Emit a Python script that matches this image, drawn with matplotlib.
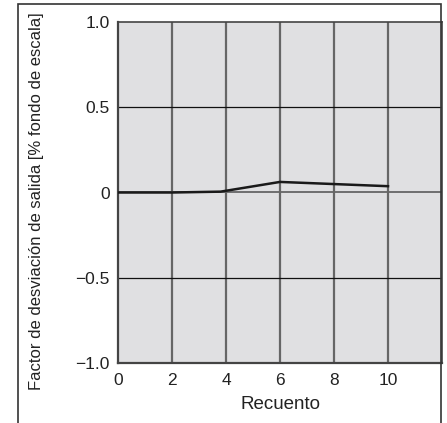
import matplotlib.pyplot as plt
from matplotlib.patches import Rectangle

plt.rcParams['font.family'] = ['Liberation Sans', 'DejaVu Sans']

recuento = [0, 2, 3.8, 6, 10]
desviacion = [0.0, 0.0, 0.005, 0.062, 0.037]
xticks = [0, 2, 4, 6, 8, 10]
yticks = [-1.0, -0.5, 0, 0.5, 1.0]
ylabels = ['\u22121.0', '\u22120.5', '0', '0.5', '1.0']

W, H = 447, 423
fig = plt.figure(figsize=(W / 100, H / 100), dpi=100)
ax = fig.add_axes([118 / W, 1 - 363 / H, (442 - 118) / W, (363 - 22) / H])

# outer frame
fig.patches.append(Rectangle((18 / W, -0.05), (441 - 18) / W, 1.05 - 4 / H,
                             transform=fig.transFigure, fill=False,
                             edgecolor='#333333', linewidth=1.2))

ax.set_facecolor('#e0e0e2')
ax.set_xlim(0, 12)
ax.set_ylim(-1, 1)

for x in [2, 4, 6, 8, 10]:
    ax.axvline(x, color='#666666', linewidth=1.6, zorder=1)
for y in [-0.5, 0.5]:
    ax.axhline(y, color='#111111', linewidth=0.9, zorder=1)
ax.axhline(0, color='#666666', linewidth=1.3, zorder=1)

ax.plot(recuento, desviacion, color='#1a1a1a', linewidth=1.8, zorder=3)

ax.set_xticks(xticks)
ax.set_yticks(yticks)
ax.set_yticklabels(ylabels)
ax.tick_params(length=0, labelsize=12.5, colors='#222222')
ax.tick_params(axis='x', pad=7)
ax.tick_params(axis='y', pad=6)

for side in ['left', 'bottom']:
    ax.spines[side].set_color('#444444')
    ax.spines[side].set_linewidth(1.6)
for side in ['top', 'right']:
    ax.spines[side].set_color('#444444')
    ax.spines[side].set_linewidth(1.2)

ax.set_xlabel('Recuento', fontsize=13.5, color='#222222', labelpad=6)
fig.text(37 / W, 1 - 201 / H, 'Factor de desviaci\u00f3n de salida [% fondo de escala]',
         rotation=90, ha='center', va='center', fontsize=12, color='#222222')

fig.savefig('out.png', dpi=100)
